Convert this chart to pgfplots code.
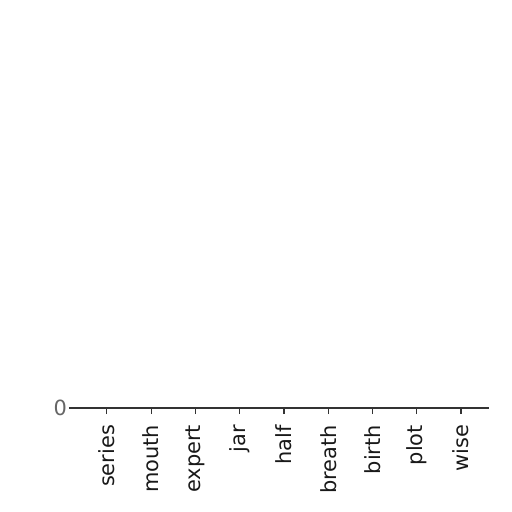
\documentclass[border=0pt]{standalone}
\usepackage{fontspec}
\setmainfont{DejaVu Sans}
\usepackage{pgfplots}
\pgfplotsset{compat=1.18}
\begin{document}
\begin{tikzpicture}
\useasboundingbox (0,0) rectangle (256bp,256bp);
\begin{axis}[
  at={(37.5bp,52bp)}, anchor=south west,
  scale only axis, width=207bp, height=190bp,
  xmin=-0.72, xmax=8.63, ymin=0, ymax=1,
  axis x line*=bottom, axis y line*=left,
  y axis line style={draw=none},
  axis line style={black!80, line width=0.6bp},
  every tick/.style={black!80, line width=0.6bp},
  tick align=outside, major tick length=3bp,
  xtick={0,...,8},
  xticklabels={series,mouth,expert,jar,half,breath,birth,plot,wise},
  ytick={0},
  /pgf/number format/assume math mode=true,
  tick label style={font=\fontsize{10.5}{12}\selectfont, text=black!90},
  x tick label style={rotate=90, anchor=east, xshift=-2bp},
  y tick label style={text=black!60, xshift=2.5bp},
]
\addplot[ybar, bar width=0.6, fill=blue!60, draw=none] coordinates {
  (0,0) (1,0) (2,0) (3,0) (4,0) (5,0) (6,0) (7,0) (8,0)
};
\end{axis}
\end{tikzpicture}
\end{document}
